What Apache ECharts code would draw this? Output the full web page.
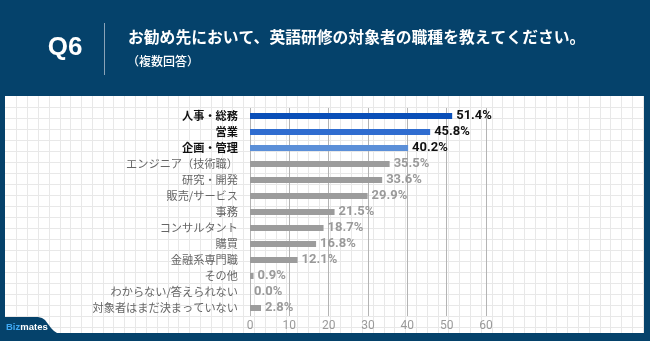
<!DOCTYPE html>
<html><head><meta charset="utf-8">
<script src="https://cdn.jsdelivr.net/npm/echarts@6/dist/echarts.min.js"></script>
<style>html,body{margin:0;padding:0;background:#05426b;}#c{width:650px;height:341px;}</style>
</head><body><div id="c"></div>
<script>
const categories = ['人事・総務','営業','企画・管理','エンジニア（技術職）','研究・開発','販売/サービス','事務','コンサルタント','購買','金融系専門職','その他','わからない/答えられない','対象者はまだ決まっていない'];
const values = [51.4,45.8,40.2,35.5,33.6,29.9,21.5,18.7,16.8,12.1,0.9,0.0,2.8];
const xTicks = [0,10,20,30,40,50,60];
const titleText = 'お勧め先において、英語研修の対象者の職種を教えてください。';
const subText = '（複数回答）';
const qText = 'Q6';

const NAVY = '#05426b';
const barColors = ['#0a4fb8','#2f6dd0','#5b8fd8'];
const GRAY = '#9c9c9c';
const FONT = '"Noto Sans CJK JP", "Noto Sans", sans-serif';

const chart = echarts.init(document.getElementById('c'), null, {renderer:'canvas'});

const gfx = [];
gfx.push({type:'rect', z:-100, shape:{x:0,y:0,width:650,height:341}, style:{fill:NAVY}, silent:true});
gfx.push({type:'rect', z:-99, shape:{x:5,y:96,width:639,height:237}, style:{fill:'#ffffff'}, silent:true});
for (let x = 5.5 + 10.8; x < 644; x += 10.8) {
  gfx.push({type:'line', z:-98, shape:{x1:Math.round(x)+0.5,y1:96,x2:Math.round(x)+0.5,y2:333}, style:{stroke:'#e8e8e8',lineWidth:1}, silent:true});
}
for (let y = 96 + 11; y < 333; y += 11) {
  gfx.push({type:'line', z:-98, shape:{x1:5,y1:Math.round(y)+0.5,x2:644,y2:Math.round(y)+0.5}, style:{stroke:'#e8e8e8',lineWidth:1}, silent:true});
}
// header
gfx.push({type:'text', z:10, style:{x:65, y:48, text:qText, fill:'#ffffff', font:'bold 26px "Liberation Sans", Arial, sans-serif', textAlign:'center', textVerticalAlign:'middle'}});
gfx.push({type:'line', z:10, shape:{x1:104.5,y1:23,x2:104.5,y2:75}, style:{stroke:'#8aa3b8',lineWidth:1}});
gfx.push({type:'text', z:10, style:{x:128, y:37, text:titleText, fill:'#ffffff', font:'bold 15.8px ' + FONT, textAlign:'left', textVerticalAlign:'middle'}});
gfx.push({type:'text', z:10, style:{x:127, y:61, text:subText, fill:'#ffffff', font:'500 12px ' + FONT, textAlign:'left', textVerticalAlign:'middle'}});
// logo tab
const tabPts = [[0,317],[38,317],[42,318],[45,320],[48,324],[51,328],[54,331],[57,333],[0,333]];
gfx.push({type:'polygon', z:10, shape:{points:tabPts}, style:{fill:NAVY}});
gfx.push({type:'text', z:11, style:{x:6, y:327, text:'{a|Biz}{b|mates}', rich:{a:{fill:'#3fa9f5', font:'bold 9.5px "Liberation Sans", Arial, sans-serif'}, b:{fill:'#ffffff', font:'bold 9.5px "Liberation Sans", Arial, sans-serif'}}, textVerticalAlign:'middle'}});

const data = values.map((v,i) => ({
  value: v,
  itemStyle: {color: i < 3 ? barColors[i] : GRAY},
  label: {color: i < 3 ? '#111111' : '#9a9a9a'}
}));

chart.setOption({
  animation:false,
  graphic: gfx,
  grid:{left:250, top:108, width:236, height:208, containLabel:false},
  xAxis:{
    type:'value', min:0, max:60, interval:10,
    axisLine:{show:false}, axisTick:{show:false},
    splitLine:{show:true, lineStyle:{color:'#b4b4b4', width:1}},
    axisLabel:{color:'#9a9a9a', fontSize:12, fontFamily:'Roboto, sans-serif', margin:4,
      formatter: v => xTicks.includes(v) ? String(v) : ''}
  },
  yAxis:{
    type:'category', data:categories, inverse:true,
    axisLine:{show:false}, axisTick:{show:false},
    axisLabel:{
      fontSize:11.2, fontFamily:FONT, margin:12,
      formatter:(v,i) => (i < 3 ? '{b|' + v + '}' : '{g|' + v + '}'),
      rich:{
        b:{color:'#111111', fontWeight:'bold', fontSize:11.2, fontFamily:FONT},
        g:{color:'#666666', fontSize:11.2, fontFamily:FONT}
      }
    }
  },
  series:[{
    type:'bar', data:data, barWidth:6,
    label:{show:true, position:'right', distance:4, fontSize:13, fontWeight:'bold', fontFamily:'Roboto, sans-serif',
      formatter: p => p.value.toFixed(1) + '%'}
  }]
});
</script></body></html>
